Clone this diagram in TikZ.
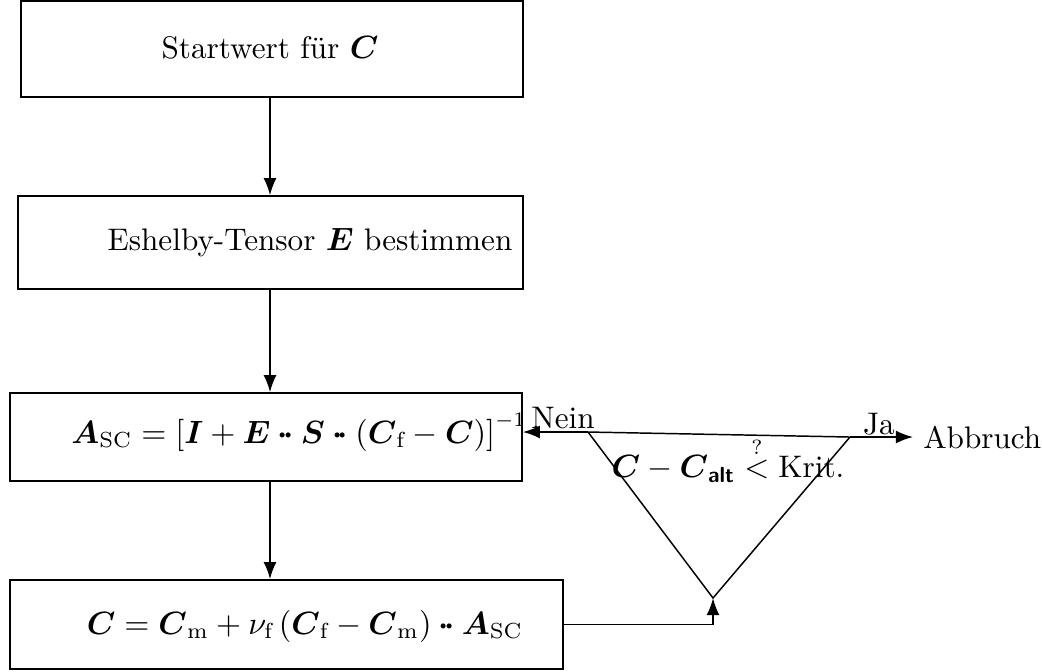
\documentclass[tikz,border=0pt]{standalone}
\usepackage{amsmath,amssymb}
\usepackage{fontspec}
\usetikzlibrary{arrows.meta,calc}
\newcommand\ddprod{\mathbin{\boldsymbol{\cdot}\mkern-2.5mu\boldsymbol{\cdot}}}
\tikzset{
  boxnode/.style={draw, line width=0.55pt, inner sep=0pt},
  txt/.style={inner sep=0pt},
  arr/.style={line width=0.6pt, -{Latex[length=5.8pt,width=4.4pt]}},
  ln/.style={line width=0.5pt}
}
\begin{document}
\begin{tikzpicture}[x=0.34pt,y=-0.34pt,font=\fontsize{10.6}{12.7}\selectfont]
\useasboundingbox (0,0) rectangle (1042,671);
% boxes
\node[boxnode, minimum width=170.7pt, minimum height=32.6pt] (b1) at (272,49) {};
\node[boxnode, minimum width=171.7pt, minimum height=31.6pt] (b2) at (270.5,242.5) {};
\node[boxnode, minimum width=174.1pt, minimum height=29.9pt] (b3) at (266,437) {};
\node[boxnode, minimum width=188pt, minimum height=30.3pt] (b4) at (286.5,624.5) {};
% texts
\node[txt] (t1) at (270,48) {Startwert für $\boldsymbol{C}$};
\node[txt] (t2) at (310,243) {Eshelby-Tensor $\boldsymbol{E}$ bestimmen};
\node[txt] (t3) at (299,432) {$\boldsymbol{A}_{\mathrm{SC}}=\left[\boldsymbol{I}+\boldsymbol{E}\ddprod\boldsymbol{S}\ddprod\left(\boldsymbol{C}_{\mathrm{f}}-\boldsymbol{C}\right)\right]^{-1}$};
\node[txt] (t4) at (305,626) {$\boldsymbol{C}=\boldsymbol{C}_{\mathrm{m}}+\nu_{\mathrm{f}}\left(\boldsymbol{C}_{\mathrm{f}}-\boldsymbol{C}_{\mathrm{m}}\right)\ddprod\boldsymbol{A}_{\mathrm{SC}}$};
% decision triangle
\coordinate (tl) at (588,432);
\coordinate (tr) at (850,437);
\coordinate (bot) at (713,598);
\draw[ln] (tl) -- (tr) -- (bot) -- cycle;
\node[txt] (cond) at (728,460) {$\boldsymbol{C}-\boldsymbol{C}_{\text{\sffamily\bfseries alt}}\overset{?}{<}\text{Krit.}$};
\node[inner sep=3.3pt, anchor=west] (abb) at (913,437) {Abbruch};
\node[txt] (nein) at (563,418) {Nein};
\node[txt] (ja) at (879,424) {Ja};
\coordinate (ax) at (270,0);
% connectors
\draw[arr] (ax |- b1.south) -- (ax |- b2.north);
\draw[arr] (ax |- b2.south) -- (ax |- b3.north);
\draw[arr] (ax |- b3.south) -- (ax |- b4.north);
\draw[arr] (b4.east) -| (bot);
\draw[arr] (tl) -- (b3.east |- tl);
\draw[arr] (tr) -- (abb.west);
\end{tikzpicture}
\end{document}
